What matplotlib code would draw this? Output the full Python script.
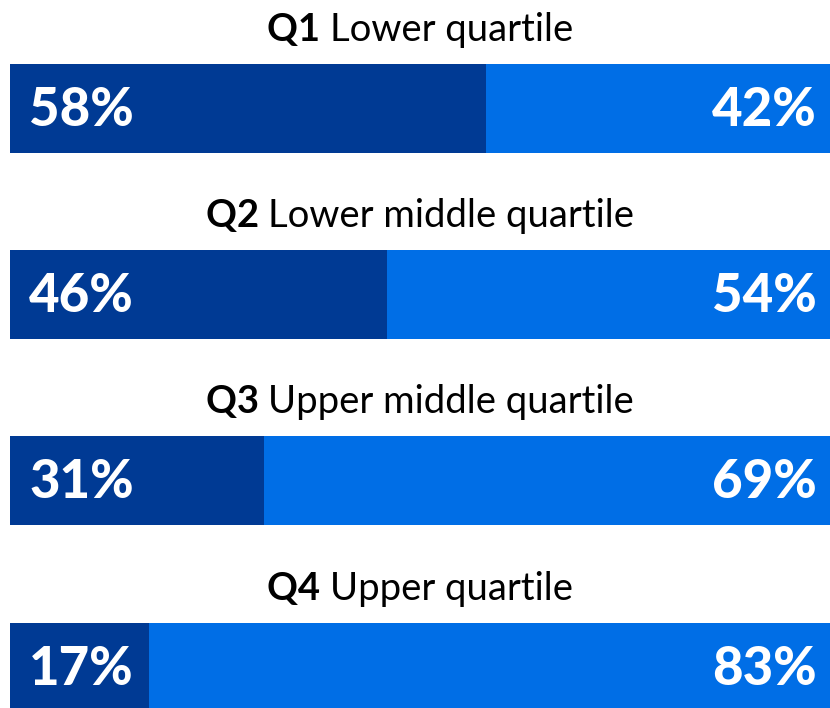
import matplotlib
matplotlib.use('Agg')
import matplotlib.pyplot as plt

quartiles = ['Q1', 'Q2', 'Q3', 'Q4']
names = ['Lower quartile', 'Lower middle quartile', 'Upper middle quartile', 'Upper quartile']
dark_share = [58, 46, 31, 17]
light_share = [42, 54, 69, 83]

dark = '#003a94'
light = '#006ee6'
font = 'Lato'

W, H = 830, 708
fig = plt.figure(figsize=(W / 100, H / 100), dpi=100)
ax = fig.add_axes((0, 0, 1, 1))
ax.set_xlim(0, W)
ax.set_ylim(H, 0)
ax.axis('off')

x0, x1 = 10, 830
span = x1 - x0
tops = [64, 250, 436, 623]
bar_h = 89

for i in range(4):
    y = tops[i] + bar_h / 2
    wd = dark_share[i] / 100 * span
    wl = light_share[i] / 100 * span
    ax.barh(y, wd, left=x0, height=bar_h, color=dark, linewidth=0)
    ax.barh(y, wl, left=x0 + wd, height=bar_h, color=light, linewidth=0)
    ax.text(x0 + 19, tops[i] + 62, f'{dark_share[i]}%', color='white',
            fontsize=38, fontweight='black', family=font, ha='left', va='baseline')
    ax.text(x1 - 13, tops[i] + 62, f'{light_share[i]}%', color='white',
            fontsize=38, fontweight='black', family=font, ha='right', va='baseline')

# titles: bold quartile code + regular name, centred over the bars
fig.canvas.draw()
r = fig.canvas.get_renderer()
for i in range(4):
    yb = tops[i] - 23
    t1 = ax.text(0, yb, quartiles[i] + ' ', fontsize=27.5, fontweight='bold',
                 family=font, ha='left', va='baseline', color='black')
    t2 = ax.text(0, yb, names[i], fontsize=27.5, family=font,
                 ha='left', va='baseline', color='black')
    w1 = t1.get_window_extent(r).width
    w2 = t2.get_window_extent(r).width
    start = (x0 + x1) / 2 - (w1 + w2) / 2
    t1.set_x(start)
    t2.set_x(start + w1)

fig.savefig('out.png', dpi=100)
